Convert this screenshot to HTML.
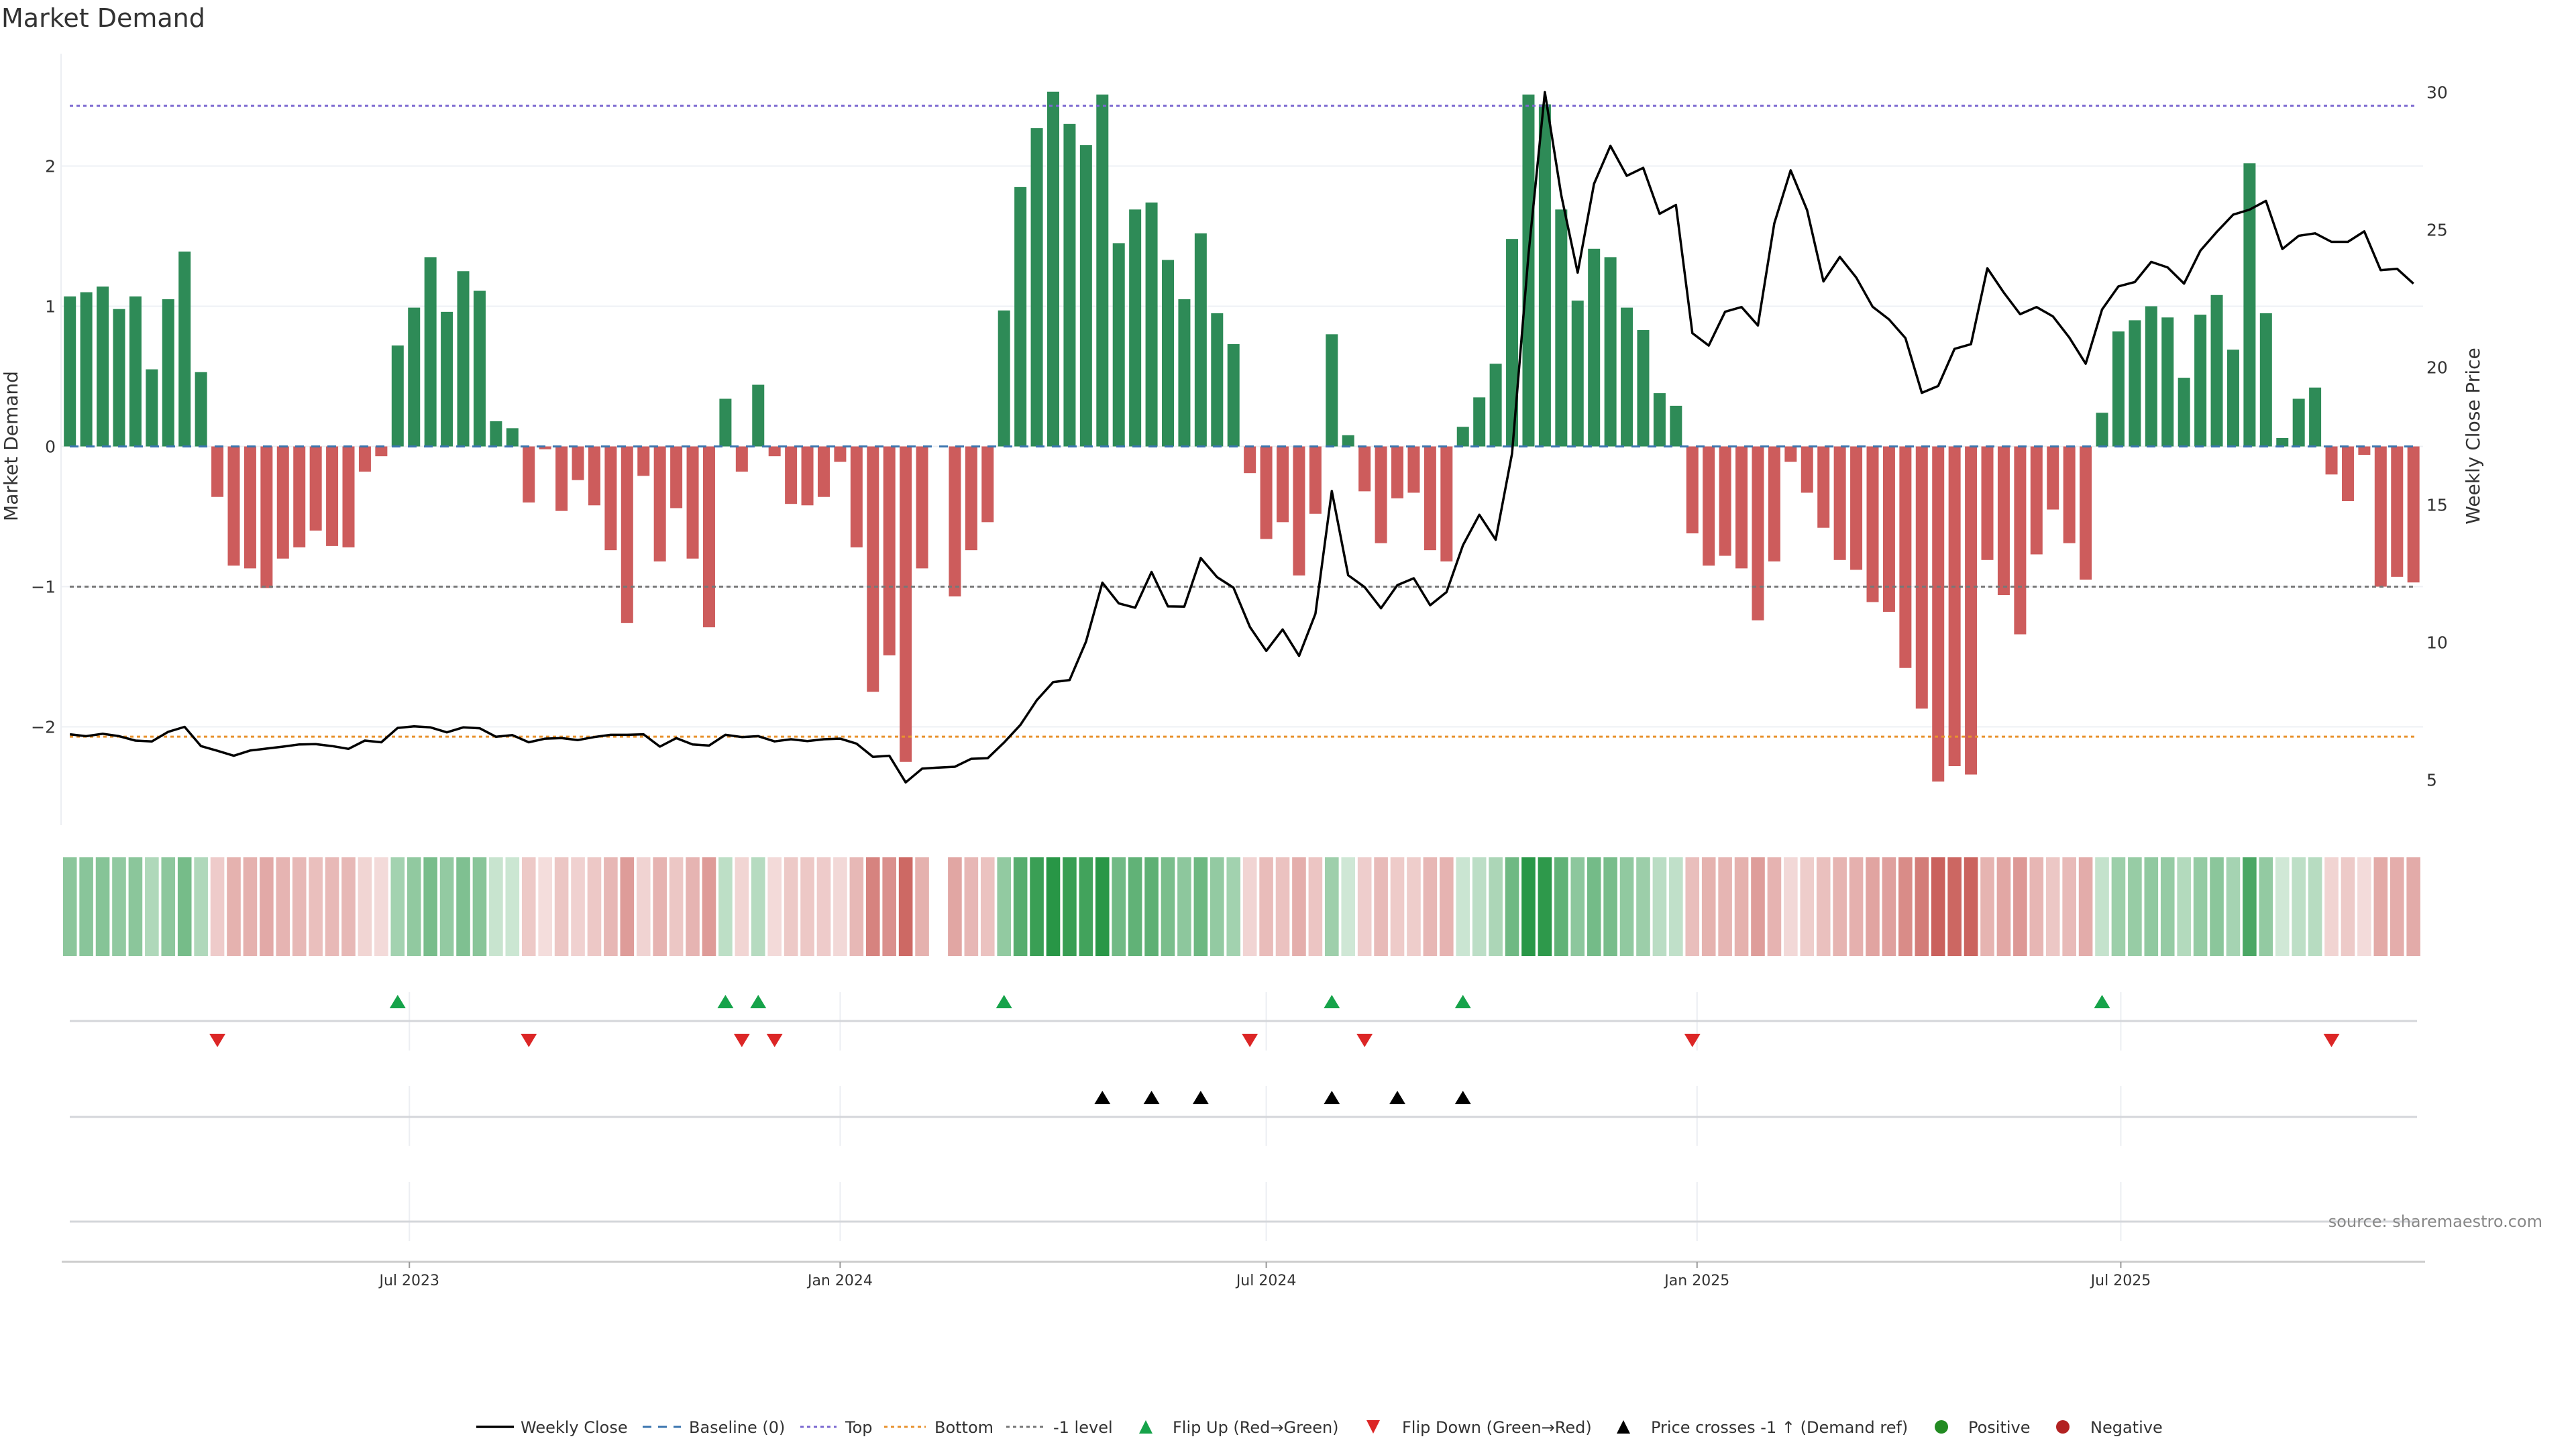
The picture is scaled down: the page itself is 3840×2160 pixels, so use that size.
<!DOCTYPE html>
<html><head><meta charset="utf-8"><title>Market Demand</title>
<style>
html,body{margin:0;padding:0;background:#fff;}
svg{display:block;font-family:"DejaVu Sans","Liberation Sans",sans-serif;}
</style></head>
<body>
<svg id="chart" xmlns="http://www.w3.org/2000/svg" width="3840" height="2160" viewBox="0 0 3840 2160">
<text x="2" y="40" font-size="38" fill="#333">Market Demand</text>
<g id="grid"></g>
<g id="bars"></g>
<g id="refs"></g>
<g id="price"></g>
<g id="heat"></g>
<g id="flips"></g>
<g id="xaxis"></g>
<text transform="translate(26,665) rotate(-90)" text-anchor="middle" font-size="28" fill="#333">Market Demand</text>
<text transform="translate(3696,650) rotate(-90)" text-anchor="middle" font-size="28" fill="#333">Weekly Close Price</text>
<text x="3790" y="1829" text-anchor="end" font-size="24" fill="#888">source: sharemaestro.com</text>
<g id="legend"></g>
</svg>
<script>
const demand = [1.07,1.10,1.14,0.98,1.07,0.55,1.05,1.39,0.53,-0.36,-0.85,-0.87,-1.01,-0.80,-0.72,-0.60,-0.71,-0.72,-0.18,-0.07,
0.72,0.99,1.35,0.96,1.25,1.11,0.18,0.13,-0.40,-0.02,-0.46,-0.24,-0.42,-0.74,-1.26,-0.21,-0.82,-0.44,-0.80,-1.29,
0.34,-0.18,0.44,-0.07,-0.41,-0.42,-0.36,-0.11,-0.72,-1.75,-1.49,-2.25,-0.87,0,-1.07,-0.74,-0.54,
0.97,1.85,2.27,2.53,2.30,2.15,2.51,1.45,1.69,1.74,1.33,1.05,1.52,0.95,0.73,-0.19,-0.66,-0.54,-0.92,-0.48,0.80,0.08,
-0.32,-0.69,-0.37,-0.33,-0.74,-0.82,0.14,0.35,0.59,1.48,2.51,2.44,1.69,1.04,1.41,1.35,0.99,0.83,0.38,0.29,
-0.62,-0.85,-0.78,-0.87,-1.24,-0.82,-0.11,-0.33,-0.58,-0.81,-0.88,-1.11,-1.18,-1.58,-1.87,-2.39,-2.28,-2.34,-0.81,-1.06,-1.34,-0.77,-0.45,-0.69,-0.95,
0.24,0.82,0.90,1.00,0.92,0.49,0.94,1.08,0.69,2.02,0.95,0.06,0.34,0.42,-0.20,-0.39,-0.06,-1.00,-0.93,-0.97];
const close = [6.66,6.59,6.68,6.59,6.43,6.40,6.75,6.93,6.23,6.06,5.88,6.07,6.14,6.21,6.29,6.30,6.23,6.13,6.43,6.37,
6.89,6.95,6.91,6.73,6.91,6.88,6.57,6.63,6.37,6.50,6.52,6.45,6.56,6.64,6.64,6.66,6.21,6.52,6.29,6.25,
6.64,6.56,6.59,6.40,6.48,6.41,6.48,6.50,6.32,5.84,5.88,4.91,5.41,5.45,5.48,5.77,5.79,
6.36,7.00,7.90,8.56,8.63,10.03,12.17,11.42,11.26,12.56,11.31,11.30,13.07,12.37,11.99,10.56,9.69,10.47,9.51,11.04,15.50,12.44,
12.01,11.24,12.08,12.33,11.35,11.83,13.53,14.64,13.73,16.87,24.1,30.0,26.26,23.44,26.67,28.05,26.96,27.25,25.58,25.90,
21.24,20.79,22.02,22.19,21.52,25.23,27.16,25.71,23.12,24.01,23.26,22.20,21.74,21.06,19.07,19.32,20.67,20.84,23.60,22.72,21.93,22.19,21.85,21.08,20.13,
22.10,22.94,23.10,23.83,23.63,23.04,24.24,24.92,25.55,25.73,26.05,24.30,24.78,24.87,24.56,24.56,24.94,23.53,23.58,23.04];
const startDate = "2023-02-06";
const yTicks = [2,1,0,-1,-2];
const yTickLabels = ["2","1","0","\u22121","\u22122"];
const priceTicks = [5,10,15,20,25,30];
const xTickDates = ["2023-07-01","2024-01-01","2024-07-01","2025-01-01","2025-07-01"];
const xTickLabels = ["Jul 2023","Jan 2024","Jul 2024","Jan 2025","Jul 2025"];
const levelTop = 2.43, levelBottom = -2.07, levelMinus1 = -1;

const NS="http://www.w3.org/2000/svg";
function mk(tag,attrs,parent){const e=document.createElementNS(NS,tag);for(const k in attrs)e.setAttribute(k,attrs[k]);parent.appendChild(e);return e;}
const X0=104.2, DX=24.43, BW=18;
const xi=i=>X0+i*DX;
const t0=new Date(startDate+"T00:00:00Z").getTime();
const xd=s=>X0+((new Date(s+"T00:00:00Z").getTime()-t0)/86400000)/7*DX;
const yv=v=>665.5-v*209;
const yp=p=>137.4+(30-p)*41.01;
const XR=3612;

// grid
const grid=document.getElementById('grid');
mk('line',{x1:91,y1:80,x2:91,y2:1230,stroke:'#eceef2','stroke-width':2},grid);
yTicks.forEach((t,k)=>{
  const l=mk('line',{x1:92,x2:XR,y1:yv(t),y2:yv(t),stroke:'#eef0f4','stroke-width':2},grid);
  
  
  const tx=mk('text',{x:83,y:yv(t)+9,'text-anchor':'end','font-size':25,fill:'#333'},grid);
  tx.textContent=yTickLabels[k];
  
  
});
priceTicks.forEach(p=>{
  const tx=mk('text',{x:3617,y:yp(p)+9,'font-size':25,fill:'#333'},grid);
  tx.textContent=String(p);
  
  
});

// bars
const bars=document.getElementById('bars');
demand.forEach((v,i)=>{
  if(v===0)return;
  const y0=yv(0),y1=yv(v);
  const r=mk('rect',{x:xi(i)-BW/2,y:Math.min(y0,y1),width:BW,height:Math.abs(y1-y0),fill:v>0?'#2e8b57':'#cd5c5c'},bars);
  
  
});

// reference lines
const refs=document.getElementById('refs');
function ref(v,color,dash,name){const l=mk('line',{x1:104,x2:3602,y1:yv(v),y2:yv(v),stroke:color,'stroke-width':3,'stroke-dasharray':dash},refs);
  
  }
ref(0,'#3b75af','13 11','baseline-line');
ref(levelTop,'#7b68d0','5 5','top-line');
ref(levelBottom,'#e8922e','5 5','bottom-line');
ref(levelMinus1,'#777','6 5','minus-one-line');

// price
const pr=document.getElementById('price');
const pl=mk('polyline',{points:close.map((p,i)=>xi(i).toFixed(1)+','+yp(p).toFixed(1)).join(' '),fill:'none',stroke:'#000','stroke-width':3.5,'stroke-linejoin':'round'},pr);



// heatmap
const heat=document.getElementById('heat');
const maxAbs=Math.max(...demand.map(Math.abs));
demand.forEach((v,i)=>{
  if(v===0)return;
  const a=0.2+0.8*Math.min(Math.abs(v)/maxAbs,1);
  const base=v>0?[40,150,70]:[200,90,85];
  const c=base.map(b=>Math.round(255-(255-b)*a));
  const r=mk('rect',{x:xi(i)-10.3,y:1278,width:20.6,height:147,fill:`rgb(${c[0]},${c[1]},${c[2]})`},heat);
  
  
});

// panels + flips
const fl=document.getElementById('flips');
xTickDates.forEach(d=>{
  [[1479,1566],[1619,1708],[1762,1850]].forEach(([a,b])=>{
    const l=mk('line',{x1:xd(d),x2:xd(d),y1:a,y2:b,stroke:'#eceef2','stroke-width':2},fl);
    
    
  });
});
[1522,1665,1821].forEach(y=>{
  const l=mk('line',{x1:104,x2:3603,y1:y,y2:y,stroke:'#d4d6da','stroke-width':3},fl);
  
  
});
function tri(x,y,up,color,name){
  const h=20,w=12;
  const pts=up?`${x-w},${y+h/2} ${x+w},${y+h/2} ${x},${y-h/2}`:`${x-w},${y-h/2} ${x+w},${y-h/2} ${x},${y+h/2}`;
  const t=mk('polygon',{points:pts,fill:color},fl);
  
  
}
let prevSign=Math.sign(demand[0]);
for(let i=1;i<demand.length;i++){
  const s=Math.sign(demand[i]); if(s===0)continue;
  if(s!==prevSign){ if(s>0)tri(xi(i),1493,true,'#16a34a','flip-up-marker'); else tri(xi(i),1551,false,'#dc2626','flip-down-marker'); }
  prevSign=s;
}
const priceRef=30-(yv(levelMinus1)-137.4)/41.01;
for(let i=1;i<close.length;i++){
  if(close[i-1]<priceRef && close[i]>=priceRef) tri(xi(i),1636,true,'#000','price-cross-marker');
}

// x axis
const xa=document.getElementById('xaxis');
mk('line',{x1:92,x2:3615,y1:1881,y2:1881,stroke:'#ccc','stroke-width':3},xa);
xTickDates.forEach((d,k)=>{
  mk('line',{x1:xd(d),x2:xd(d),y1:1881,y2:1890,stroke:'#999','stroke-width':2},xa);
  const t=mk('text',{x:xd(d),y:1916,'text-anchor':'middle','font-size':22,fill:'#333'},xa);
  t.textContent=xTickLabels[k];
  
  
});

// legend
const lg=document.getElementById('legend');
const LY=2127;
function ltext(x,s){const t=mk('text',{x:x,y:LY+9,'font-size':24,fill:'#333'},lg);t.textContent=s;
  
  }
function lline(x1,x2,c,dash,w){mk('line',{x1:x1,x2:x2,y1:LY,y2:LY,stroke:c,'stroke-width':w,'stroke-dasharray':dash},lg);}
lline(710,766,'#000','',3.5); ltext(776,'Weekly Close');
lline(958,1015,'#3b75af','13 10',3); ltext(1027,'Baseline (0)');
lline(1193,1247,'#7b68d0','5 5',3); ltext(1260,'Top');
lline(1318,1380,'#e8922e','5 5',3); ltext(1393,'Bottom');
lline(1500,1559,'#777','5 5',3); ltext(1570,'-1 level');
mk('polygon',{points:`1698,${LY+10} 1718,${LY+10} 1708,${LY-10}`,fill:'#16a34a'},lg); ltext(1748,'Flip Up (Red\u2192Green)');
mk('polygon',{points:`2037,${LY-10} 2057,${LY-10} 2047,${LY+10}`,fill:'#dc2626'},lg); ltext(2090,'Flip Down (Green\u2192Red)');
mk('polygon',{points:`2410,${LY+10} 2430,${LY+10} 2420,${LY-10}`,fill:'#000'},lg); ltext(2461,'Price crosses -1 \u2191 (Demand ref)');
mk('circle',{cx:2894,cy:LY,r:10,fill:'#228b22'},lg); ltext(2934,'Positive');
mk('circle',{cx:3075,cy:LY,r:10,fill:'#b22222'},lg); ltext(3116,'Negative');
</script>
</body></html>
